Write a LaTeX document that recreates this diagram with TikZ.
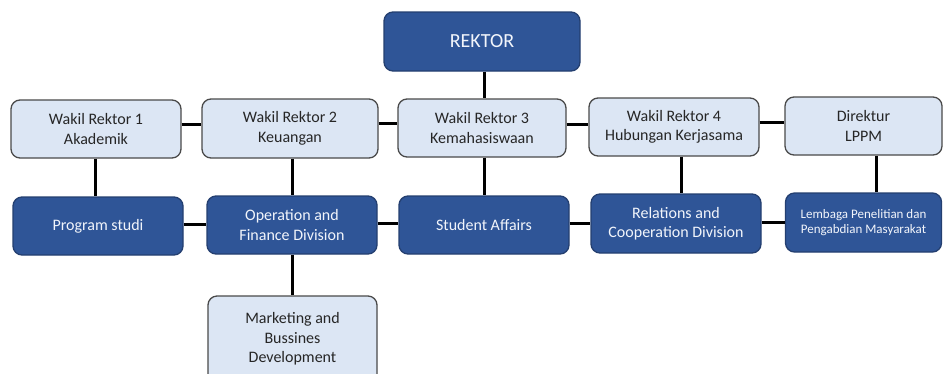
\documentclass[tikz,border=0pt]{standalone}
\usepackage{fontspec}
\setmainfont{Carlito}
\definecolor{darkfill}{HTML}{2F5597}
\definecolor{darkdraw}{HTML}{243F70}
\definecolor{lightfill}{HTML}{DCE6F4}
\definecolor{lightdraw}{HTML}{4A4A4A}
\definecolor{darktext}{HTML}{F2F5FB}
\definecolor{lighttext}{HTML}{262626}
\begin{document}
\begin{tikzpicture}[x=1pt,y=-1pt,
  box/.style={rectangle, rounded corners=9pt, line width=1.3pt, align=center,
    inner sep=0pt, font=\fontsize{16}{19.5}\selectfont},
  darkbox/.style={box, fill=darkfill, draw=darkdraw, text=darktext},
  lightbox/.style={box, fill=lightfill, draw=lightdraw, text=lighttext},
  conn/.style={line width=3pt, black}]
\clip (0,0) rectangle (944,373);
\fill[white] (0,0) rectangle (944,373);
% nodes
\node[darkbox, minimum width=196pt, minimum height=59pt, font=\fontsize{20}{24}\selectfont] (rek) at (482,41.5) {REKTOR};
\node[lightbox, minimum width=170pt, minimum height=58pt] (wr1) at (96,129) {Wakil Rektor 1\\Akademik};
\node[lightbox, minimum width=176pt, minimum height=59pt] (wr2) at (290,128.5) {Wakil Rektor 2\\Keuangan};
\node[lightbox, minimum width=168pt, minimum height=58pt] (wr3) at (482,128) {Wakil Rektor 3\\Kemahasiswaan};
\node[lightbox, minimum width=170pt, minimum height=58pt] (wr4) at (674,127) {Wakil Rektor 4\\Hubungan Kerjasama};
\node[lightbox, minimum width=157pt, minimum height=58pt] (dir) at (863.5,126) {Direktur\\LPPM};
\node[darkbox, minimum width=170pt, minimum height=58pt] (prog) at (98,226) {Program studi};
\node[darkbox, minimum width=170pt, minimum height=58pt] (opf) at (292,225) {Operation and\\Finance Division};
\node[darkbox, minimum width=170pt, minimum height=58pt] (sa) at (484,225) {Student Affairs};
\node[darkbox, minimum width=170pt, minimum height=59pt] (rel) at (676,223.5) {Relations and\\Cooperation Division};
\node[darkbox, minimum width=156pt, minimum height=59pt, font=\fontsize{13}{15.5}\selectfont] (lem) at (863.5,222.5) {Lembaga Penelitian dan\\Pengabdian Masyarakat};
\node[lightbox, minimum width=169pt, minimum height=88pt] (mkt) at (292.5,340) {};
\node[lightbox, draw=none, fill=none, anchor=north] (mkttext) at (292.5,312) {Marketing and\\Bussines\\Development};
% connectors
\draw[conn] ([xshift=2]rek.south) -- ([xshift=2]wr3.north);
\draw[conn] ([yshift=5]wr1.east) -- ([yshift=5]wr1.east -| wr2.west);
\draw[conn] ([yshift=5]wr2.east) -- ([yshift=5]wr2.east -| wr3.west);
\draw[conn] ([yshift=4]wr3.east) -- ([yshift=4]wr3.east -| wr4.west);
\draw[conn] ([yshift=5]wr4.east) -- ([yshift=5]wr4.east -| dir.west);
\draw[conn] ([xshift=-1]wr1.south) -- ([xshift=-1]wr1.south |- prog.north);
\draw[conn] ([xshift=2]wr2.south) -- ([xshift=2]wr2.south |- opf.north);
\draw[conn] ([xshift=2]wr3.south) -- ([xshift=2]wr3.south |- sa.north);
\draw[conn] ([xshift=7]wr4.south) -- ([xshift=7]wr4.south |- rel.north);
\draw[conn] ([xshift=13]dir.south) -- ([xshift=13]dir.south |- lem.north);
\draw[conn] ([yshift=2]prog.east) -- ([yshift=2]prog.east -| opf.west);
\draw[conn] ([yshift=2]opf.east) -- ([yshift=2]opf.east -| sa.west);
\draw[conn] ([yshift=1.5]sa.east) -- ([yshift=1.5]sa.east -| rel.west);
\draw[conn] ([yshift=1.5]rel.east) -- ([yshift=1.5]rel.east -| lem.west);
\draw[conn] (opf.south) -- (opf.south |- mkt.north);
\end{tikzpicture}
\end{document}
